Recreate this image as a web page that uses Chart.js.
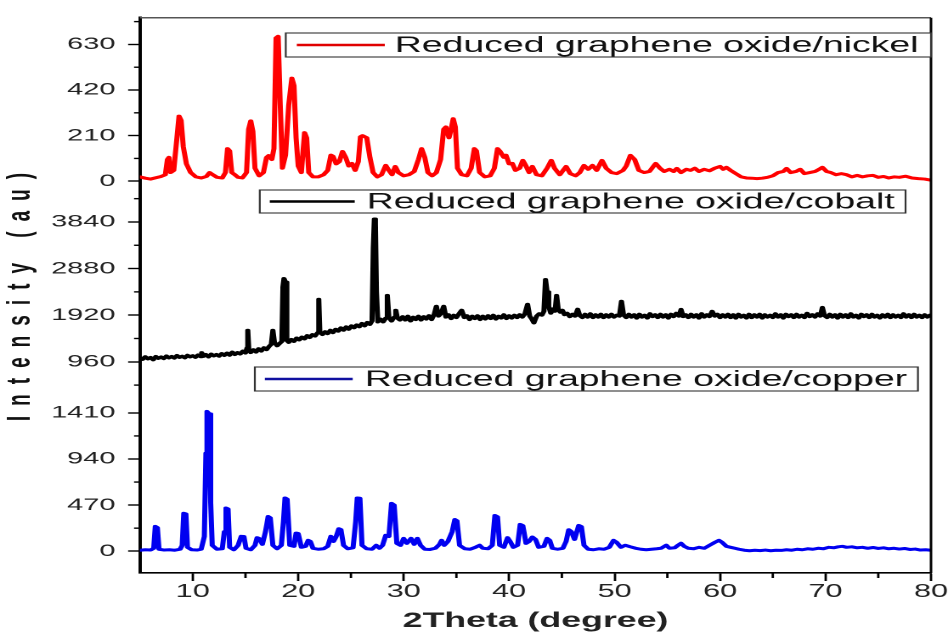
<!DOCTYPE html>
<html><head><meta charset="utf-8">
<script src="https://cdn.jsdelivr.net/npm/chart.js@4.4.0/dist/chart.umd.min.js"></script>
<style>
html,body{margin:0;padding:0;background:#fff;overflow:hidden;}
#wrap{position:absolute;left:0;top:0;width:558px;height:635px;transform:scaleX(1.69892);transform-origin:0 0;}
canvas{display:block;}
</style></head><body>
<div id="wrap"><canvas id="c" width="558" height="635" style="width:558px;height:635px"></canvas></div>
<script>
// ---- data ----
const seriesNames = ['Reduced graphene oxide/nickel','Reduced graphene oxide/cobalt','Reduced graphene oxide/copper'];
const seriesColors = ['#ff0000','#000000','#0000f0'];
const legendLineColors = ['#e00000','#000000','#1010a0'];
const xTitle = '2Theta (degree)';
const yTitle = 'Intensity (au)';
const xMajorTicks = [10,20,30,40,50,60,70,80];
const xMinorTicks = [15,25,35,45,55,65,75];
const nickelMajorTicks = [0,210,420,630];
const nickelMinorTicks = [105,315,525,735];
const cobaltMajorTicks = [960,1920,2880,3840];
const cobaltMinorTicks = [480,1440,2400,3360,4320];
const copperMajorTicks = [0,470,940,1410];
const copperMinorTicks = [235,705,1175];

const nickel = [[5.0,20],[5.5,14],[6.0,10],[6.5,16],[7.0,22],[7.4,30],[7.6,100],[7.75,110],[7.9,40],[8.2,50],[8.5,200],[8.7,300],[8.9,280],[9.1,160],[9.4,80],[9.8,40],[10.3,20],[10.8,15],[11.3,22],[11.6,40],[11.9,30],[12.3,18],[12.8,15],[13.1,40],[13.3,150],[13.5,140],[13.7,40],[14.0,30],[14.3,18],[14.7,15],[15.1,40],[15.3,240],[15.5,278],[15.7,230],[15.9,60],[16.3,25],[16.7,40],[17.0,110],[17.2,118],[17.5,100],[17.7,150],[17.9,660],[18.1,667],[18.3,350],[18.5,60],[18.8,120],[19.1,350],[19.4,475],[19.6,440],[19.8,200],[20.0,70],[20.3,40],[20.6,224],[20.8,200],[21.0,40],[21.4,20],[21.9,20],[22.4,30],[22.8,50],[23.1,120],[23.3,115],[23.6,80],[23.9,90],[24.2,137],[24.5,110],[24.8,70],[25.1,82],[25.4,50],[25.7,90],[25.9,205],[26.1,210],[26.5,200],[26.8,110],[27.1,40],[27.5,20],[27.9,30],[28.3,73],[28.6,50],[28.9,30],[29.2,68],[29.5,40],[30.0,25],[30.5,30],[31.0,45],[31.4,100],[31.7,150],[32.0,110],[32.3,40],[32.7,25],[33.1,40],[33.5,100],[33.8,240],[34.0,250],[34.3,200],[34.5,240],[34.7,288],[34.9,250],[35.1,60],[35.5,30],[36.0,25],[36.4,60],[36.7,150],[36.9,140],[37.2,40],[37.7,20],[38.2,25],[38.6,60],[38.9,150],[39.1,140],[39.5,110],[39.7,120],[40.0,80],[40.3,82],[40.6,50],[41.0,60],[41.3,96],[41.6,70],[41.9,40],[42.2,68],[42.6,30],[43.1,25],[43.6,60],[44.0,96],[44.3,60],[44.8,30],[45.4,68],[45.8,35],[46.3,25],[46.7,40],[47.1,73],[47.5,55],[47.9,73],[48.3,50],[48.8,96],[49.2,60],[49.7,40],[50.2,35],[50.8,50],[51.1,70],[51.5,119],[51.9,100],[52.3,50],[52.8,40],[53.3,45],[53.9,82],[54.3,60],[54.7,45],[55.2,55],[55.6,45],[55.9,59],[56.3,40],[56.8,55],[57.2,50],[57.6,60],[58.0,45],[58.5,55],[59.0,48],[59.5,60],[60.0,68],[60.3,55],[60.6,64],[61.0,50],[61.5,35],[62.0,20],[62.5,15],[63.0,14],[63.5,12],[64.0,14],[64.5,18],[65.0,25],[65.5,40],[66.0,45],[66.3,59],[66.7,40],[67.2,45],[67.6,55],[68.0,35],[68.5,40],[69.0,45],[69.4,55],[69.7,64],[70.1,45],[70.5,40],[71.0,30],[71.5,35],[72.0,30],[72.5,20],[73.0,27],[73.5,20],[74.0,25],[74.5,27],[75.0,18],[75.5,22],[76.0,15],[76.5,20],[77.0,18],[77.6,23],[78.2,15],[78.8,12],[79.4,10],[80.0,5]];

const cobalt = [[5.00,1040],[5.25,1010],[5.50,1065],[5.75,1020],[6.00,1050],[6.25,1000],[6.50,1070],[6.75,1030],[7.00,1060],[7.25,1025],[7.50,1080],[7.75,1040],[8.00,1070],[8.25,1035],[8.50,1090],[8.75,1050],[9.00,1075],[9.25,1040],[9.50,1095],[9.75,1060],[10.00,1085],[10.25,1050],[10.50,1100],[10.75,1065],[10.85,1150],[11.00,1070],[11.25,1110],[11.50,1060],[11.75,1120],[12.00,1080],[12.25,1110],[12.50,1075],[12.75,1130],[13.00,1090],[13.25,1140],[13.50,1095],[13.75,1160],[14.00,1110],[14.25,1150],[14.50,1120],[14.75,1180],[15.00,1140],[15.15,1250],[15.22,1610],[15.32,1200],[15.50,1150],[15.75,1210],[16.00,1160],[16.25,1230],[16.50,1180],[16.75,1250],[17.00,1210],[17.25,1280],[17.45,1320],[17.60,1610],[17.75,1360],[18.00,1290],[18.25,1340],[18.45,1380],[18.55,2500],[18.65,2676],[18.80,2600],[18.92,1400],[19.10,1360],[19.35,1420],[19.60,1380],[19.85,1450],[20.10,1410],[20.35,1470],[20.60,1430],[20.85,1500],[21.10,1460],[21.35,1520],[21.60,1490],[21.85,1560],[21.95,2247],[22.05,1580],[22.30,1520],[22.55,1580],[22.80,1540],[23.05,1610],[23.30,1560],[23.55,1630],[23.80,1590],[24.05,1660],[24.30,1610],[24.55,1680],[24.80,1630],[25.05,1700],[25.30,1660],[25.55,1720],[25.80,1680],[26.05,1750],[26.30,1700],[26.55,1770],[26.80,1730],[27.00,1800],[27.12,3300],[27.22,3900],[27.32,3800],[27.42,2400],[27.55,1780],[27.80,1840],[28.05,1780],[28.30,1860],[28.45,2329],[28.60,1870],[28.85,1800],[29.10,1880],[29.25,2022],[29.40,1860],[29.65,1820],[29.90,1890],[30.15,1820],[30.40,1900],[30.65,1800],[30.90,1880],[31.15,1830],[31.40,1900],[31.65,1820],[31.90,1890],[32.15,1840],[32.40,1910],[32.65,1830],[32.90,1940],[33.10,2104],[33.30,1900],[33.55,1960],[33.80,2104],[34.00,1880],[34.25,1930],[34.50,1850],[34.75,1920],[35.00,1870],[35.25,1950],[35.50,2022],[35.75,1870],[36.00,1910],[36.25,1830],[36.50,1900],[36.75,1850],[37.00,1910],[37.25,1830],[37.50,1900],[37.75,1840],[38.00,1910],[38.25,1850],[38.50,1920],[38.75,1840],[39.00,1900],[39.25,1860],[39.50,1930],[39.75,1850],[40.00,1910],[40.25,1860],[40.50,1920],[40.75,1870],[41.00,1930],[41.25,1880],[41.50,1950],[41.75,2145],[41.95,1900],[42.15,1840],[42.35,1760],[42.60,1900],[42.85,1950],[43.10,1920],[43.30,2000],[43.45,2656],[43.60,2400],[43.75,2100],[43.95,1960],[44.15,2050],[44.35,2000],[44.50,2329],[44.65,2050],[44.85,1980],[45.05,2022],[45.25,1930],[45.50,1960],[45.75,1890],[46.00,1940],[46.25,1900],[46.50,2043],[46.70,1910],[46.95,1870],[47.20,1940],[47.45,1880],[47.70,1950],[47.95,1870],[48.20,1930],[48.45,1880],[48.70,1940],[48.95,1870],[49.20,1930],[49.45,1880],[49.70,1940],[49.95,1880],[50.20,1920],[50.45,1900],[50.65,2206],[50.85,1920],[51.10,1870],[51.35,1940],[51.60,1880],[51.85,1930],[52.10,1860],[52.35,1940],[52.60,1880],[52.85,1920],[53.10,1860],[53.35,1950],[53.60,1890],[53.85,1930],[54.10,1870],[54.35,1940],[54.60,1880],[54.85,1930],[55.10,1860],[55.35,1940],[55.60,1890],[55.85,1960],[56.10,1900],[56.30,2040],[56.50,1890],[56.75,1930],[57.00,1870],[57.25,1940],[57.50,1880],[57.75,1930],[58.00,1860],[58.25,1950],[58.50,1880],[58.75,1930],[59.00,1890],[59.25,2000],[59.50,1900],[59.75,1940],[60.00,1870],[60.25,1930],[60.50,1880],[60.75,1940],[61.00,1870],[61.25,1930],[61.50,1860],[61.75,1940],[62.00,1880],[62.25,1920],[62.50,1860],[62.75,1940],[63.00,1870],[63.25,1930],[63.50,1880],[63.75,1940],[64.00,1860],[64.25,1930],[64.50,1880],[64.75,1920],[65.00,1870],[65.25,1950],[65.50,1880],[65.75,1930],[66.00,1860],[66.25,1940],[66.50,1890],[66.75,1930],[67.00,1870],[67.25,1940],[67.50,1880],[67.75,1920],[68.00,1870],[68.25,1960],[68.50,1890],[68.75,1930],[69.00,1880],[69.25,1950],[69.50,1900],[69.70,2080],[69.90,1910],[70.15,1870],[70.40,1940],[70.65,1880],[70.90,1930],[71.15,1860],[71.40,1940],[71.65,1880],[71.90,1930],[72.15,1870],[72.40,1950],[72.65,1880],[72.90,1920],[73.15,1860],[73.40,1940],[73.65,1890],[73.90,1930],[74.15,1870],[74.40,1940],[74.65,1880],[74.90,1920],[75.15,1860],[75.40,1930],[75.65,1880],[75.90,1940],[76.15,1870],[76.40,1930],[76.65,1880],[76.90,1920],[77.15,1870],[77.40,1950],[77.65,1880],[77.90,1930],[78.15,1870],[78.40,1940],[78.65,1880],[78.90,1920],[79.15,1870],[79.40,1930],[79.65,1880],[79.90,1920],[80.00,1900]];

const copper = [[5.0,10],[5.5,15],[6.0,12],[6.3,30],[6.45,253],[6.65,240],[6.8,20],[7.3,12],[7.8,15],[8.3,10],[8.8,20],[9.0,60],[9.15,387],[9.35,380],[9.5,40],[9.9,15],[10.4,12],[10.8,20],[11.1,150],[11.25,1000],[11.35,1425],[11.55,1400],[11.7,500],[11.85,60],[12.3,20],[12.8,25],[13.0,200],[13.15,441],[13.35,430],[13.5,40],[13.9,15],[14.3,60],[14.6,152],[14.85,150],[15.05,30],[15.5,15],[15.9,60],[16.1,138],[16.3,130],[16.6,70],[16.9,200],[17.15,354],[17.35,340],[17.6,60],[18.0,25],[18.4,60],[18.6,300],[18.75,543],[18.95,530],[19.2,60],[19.6,50],[19.8,185],[20.0,180],[20.3,40],[20.7,50],[20.95,111],[21.15,100],[21.4,30],[21.9,20],[22.4,25],[22.8,50],[23.1,152],[23.35,100],[23.6,150],[23.85,229],[24.05,220],[24.3,60],[24.7,25],[25.2,35],[25.45,300],[25.6,543],[25.85,540],[26.05,60],[26.5,25],[27.0,20],[27.4,61],[27.7,30],[28.0,60],[28.3,162],[28.6,150],[28.85,488],[29.1,470],[29.35,80],[29.7,60],[30.0,131],[30.3,80],[30.7,131],[31.0,70],[31.3,131],[31.6,60],[32.0,20],[32.5,18],[33.0,30],[33.4,70],[33.6,111],[33.85,60],[34.2,100],[34.6,200],[34.85,323],[35.05,310],[35.3,60],[35.8,25],[36.3,20],[36.8,40],[37.2,61],[37.5,30],[38.0,25],[38.4,60],[38.65,364],[38.9,350],[39.1,60],[39.5,40],[39.85,138],[40.1,100],[40.4,40],[40.8,60],[41.05,273],[41.3,260],[41.6,80],[41.9,100],[42.2,145],[42.5,120],[42.8,40],[43.3,50],[43.6,131],[43.85,110],[44.1,30],[44.6,20],[45.1,30],[45.4,100],[45.65,219],[45.9,200],[46.2,120],[46.6,263],[46.85,250],[47.1,60],[47.5,20],[48.0,15],[48.5,25],[49.0,20],[49.5,40],[49.9,111],[50.2,90],[50.6,40],[51.0,61],[51.5,45],[52.0,30],[52.5,20],[53.0,15],[53.5,20],[54.0,25],[54.4,30],[54.9,61],[55.2,30],[55.7,35],[56.0,60],[56.3,81],[56.6,50],[57.0,30],[57.5,25],[58.0,40],[58.5,30],[59.0,60],[59.5,90],[59.9,111],[60.2,90],[60.6,50],[61.0,40],[61.4,30],[61.8,20],[62.3,10],[62.8,5],[63.3,10],[63.8,6],[64.3,12],[64.8,5],[65.3,10],[65.8,8],[66.3,15],[66.8,10],[67.3,20],[67.8,15],[68.3,25],[68.8,20],[69.3,30],[69.8,25],[70.3,40],[70.8,35],[71.2,45],[71.6,50],[72.0,40],[72.5,45],[73.0,35],[73.5,40],[74.0,30],[74.5,38],[75.0,28],[75.5,35],[76.0,25],[76.5,30],[77.0,22],[77.5,28],[78.0,18],[78.5,22],[79.0,12],[79.5,15],[80.0,10]];

// ---- helpers ----
const toPts = a => a.map(p => ({x: p[0], y: p[1]}));
const FONT = 'Liberation Sans, Arial, sans-serif';

function yScale(weight, min, max, major, minor) {
  const all = major.concat(minor).sort((a,b)=>a-b);
  return {
    type: 'linear', position: 'left', stack: 'panels', stackWeight: weight,
    min: min, max: max,
    afterBuildTicks: s => { s.ticks = all.filter(v => v >= min && v <= max).map(v => ({value: v})); },
    afterFit: s => { s.width = 82.4; },
    ticks: {
      autoSkip: false, padding: 7.5, color: '#222',
      font: {family: FONT, size: 17},
      callback: v => major.includes(v) ? String(v) : ''
    },
    grid: {
      drawOnChartArea: false, tickLength: 7, tickWidth: 1.4,
      tickColor: c => (c.tick && major.includes(c.tick.value)) ? '#000' : 'rgba(0,0,0,0)'
    },
    border: {display: true, color: '#000', width: 2}
  };
}

const minorTickPlugin = {
  id: 'minorTicks',
  afterDraw(chart) {
    const ctx = chart.ctx;
    ctx.save();
    ctx.strokeStyle = '#000';
    ctx.lineWidth = 1.4;
    const defs = [['yNi', nickelMinorTicks], ['yCo', cobaltMinorTicks], ['yCu', copperMinorTicks]];
    defs.forEach(([id, list]) => {
      const s = chart.scales[id];
      list.forEach(v => {
        if (v < s.min || v > s.max) return;
        const y = s.getPixelForValue(v);
        ctx.beginPath(); ctx.moveTo(s.right - 3.5, y); ctx.lineTo(s.right, y); ctx.stroke();
      });
    });
    const xs = chart.scales.x;
    xMinorTicks.forEach(v => {
      const x = xs.getPixelForValue(v);
      ctx.beginPath(); ctx.moveTo(x, xs.top); ctx.lineTo(x, xs.top + 5); ctx.stroke();
    });
    ctx.restore();
  }
};

const framePlugin = {
  id: 'frameLegend',
  afterDatasetsDraw(chart) {
    const ctx = chart.ctx;
    const a = chart.chartArea;
    ctx.save();
    ctx.strokeStyle = '#555'; ctx.lineWidth = 1.5;
    ctx.beginPath(); ctx.moveTo(a.left, a.top); ctx.lineTo(a.right, a.top); ctx.stroke();
    ctx.strokeStyle = '#000'; ctx.lineWidth = 1.5;
    ctx.beginPath(); ctx.moveTo(a.right, a.top); ctx.lineTo(a.right, a.bottom); ctx.stroke();
    const boxes = [
      {l: 168.2, r: a.right, t: 33, b: 57, l0: 174.7, l1: 226.5, tx: 232.4},
      {l: 152.9, r: 533.0, t: 190, b: 213, l0: 158.8, l1: 208.8, tx: 215.9},
      {l: 150.0, r: 540.3, t: 367, b: 391, l0: 155.9, l1: 207.6, tx: 214.7}
    ];
    boxes.forEach((bx, i) => {
      ctx.fillStyle = '#fff';
      ctx.fillRect(bx.l, bx.t, bx.r - bx.l, bx.b - bx.t);
      ctx.strokeStyle = '#333'; ctx.lineWidth = 1.1;
      ctx.strokeRect(bx.l, bx.t, bx.r - bx.l, bx.b - bx.t);
      const cy = (bx.t + bx.b) / 2;
      ctx.strokeStyle = legendLineColors[i]; ctx.lineWidth = 2.4;
      ctx.beginPath(); ctx.moveTo(bx.l0, cy); ctx.lineTo(bx.l1, cy); ctx.stroke();
      ctx.fillStyle = '#111';
      ctx.font = '22px ' + FONT;
      ctx.textBaseline = 'middle'; ctx.textAlign = 'left';
      ctx.fillText(seriesNames[i], bx.tx, cy + 1);
    });
    ctx.translate(12.4, 292);
    ctx.rotate(-Math.PI / 2);
    ctx.font = 'bold 19px ' + FONT;
    ctx.fillStyle = '#111';
    try { ctx.letterSpacing = '10px'; } catch (e) {}
    const w = ctx.measureText(yTitle).width;
    ctx.textBaseline = 'middle'; ctx.textAlign = 'left';
    ctx.fillText(yTitle, -w / 2, 0);
    ctx.restore();
  }
};

const lineStyle = {pointRadius: 0, tension: 0, fill: false, borderJoinStyle: 'round', borderCapStyle: 'round'};

new Chart(document.getElementById('c'), {
  type: 'line',
  data: {
    datasets: [
      Object.assign({label: seriesNames[0], data: toPts(nickel), yAxisID: 'yNi', borderColor: seriesColors[0], borderWidth: 3}, lineStyle),
      Object.assign({label: seriesNames[1], data: toPts(cobalt), yAxisID: 'yCo', borderColor: seriesColors[1], borderWidth: 3}, lineStyle),
      Object.assign({label: seriesNames[2], data: toPts(copper), yAxisID: 'yCu', borderColor: seriesColors[2], borderWidth: 3}, lineStyle)
    ]
  },
  options: {
    responsive: false, animation: false, devicePixelRatio: 2,
    layout: {padding: {top: 13, right: 9.8, left: 0, bottom: 0}},
    plugins: {legend: {display: false}, tooltip: {enabled: false}, title: {display: false}},
    scales: {
      x: {
        type: 'linear', min: 5, max: 80,
        afterBuildTicks: s => { s.ticks = xMajorTicks.map(v => ({value: v})); },
        afterFit: s => { s.height = 62; },
        ticks: {autoSkip: false, maxRotation: 0, padding: 0, color: '#222', font: {family: FONT, size: 18}},
        grid: {drawOnChartArea: false, tickLength: 8, tickWidth: 1.4, tickColor: '#000'},
        border: {display: true, color: '#000', width: 1.6},
        title: {display: true, text: xTitle, color: '#222', font: {family: FONT, size: 21, weight: 'bold'}, padding: {top: 0, bottom: 1}}
      },
      yCu: yScale(187, -222, 1668, copperMajorTicks, copperMinorTicks),
      yCo: yScale(191, 429, 4330, cobaltMajorTicks, cobaltMinorTicks),
      yNi: yScale(182, -78, 753, nickelMajorTicks, nickelMinorTicks)
    }
  },
  plugins: [framePlugin, minorTickPlugin]
});
</script>
</body></html>
